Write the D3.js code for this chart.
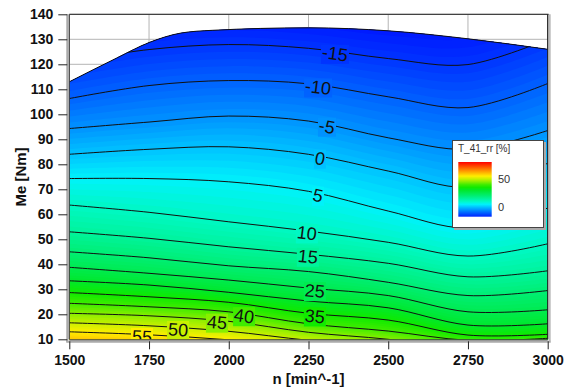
<!DOCTYPE html>
<html>
<head>
<meta charset="utf-8">
<script src="https://cdn.jsdelivr.net/npm/d3@7"></script>
<style>
  body { margin: 0; background: #fff; }
  text { font-family: "Liberation Sans", Arial, sans-serif; }
</style>
</head>
<body>
<script>
// speed samples n [min^-1]
var nValues = [1500, 1750, 2000, 2250, 2500, 2750, 3000];

// contour levels of T_41_rr [%]
var levels = [-15, -10, -5, 0, 5, 10, 15, 20, 25, 30, 35, 40, 45, 50, 55];

// Me [Nm] of every contour line at nValues (one row per level)
var contourMe = [
  [121.0, 125.9, 127.9, 126.4, 122.3, 119.9, 130.0],  // -15
  [106.3, 111.5, 113.5, 112.2, 107.0, 102.7, 112.3],  // -10
  [ 94.3,  96.9,  99.3,  97.3,  90.6,  86.0,  93.5],  // -5
  [ 84.0,  86.0,  87.0,  84.0,  77.3,  70.8,  80.4],  // 0
  [ 74.3,  74.3,  73.0,  69.2,  61.3,  54.5,  62.5],  // 5
  [ 63.7,  60.8,  57.0,  53.3,  48.8,  43.3,  48.2],  // 10
  [ 53.0,  50.4,  47.0,  44.0,  40.4,  35.0,  37.4],  // 15
  [ 45.0,  42.6,  39.4,  37.1,  32.8,  27.5,  29.5],  // 20
  [ 38.8,  36.4,  33.7,  30.5,  27.5,  21.0,  21.8],  // 25
  [ 33.4,  31.7,  28.8,  25.3,  22.6,  15.7,  16.2],  // 30
  [ 28.7,  27.0,  24.8,  20.4,  17.7,  11.7,  12.0],  // 35
  [ 24.4,  23.0,  21.0,  16.2,  13.3,   9.6,  10.4],  // 40
  [ 20.4,  19.4,  17.2,  12.8,  10.0,   6.0,   7.0],  // 45
  [ 16.6,  15.4,  13.2,   9.6,   7.0,   4.0,   4.0],  // 50
  [ 13.0,  11.8,   9.8,   7.0,   4.0,   2.0,   1.0]   // 55
];

// upper limit of the measured map
var envN  = [1500, 1650, 1750, 1850, 1950, 2250, 2500, 2750, 3000];
var envMe = [113.0, 122.6, 128.7, 132.5, 133.6, 134.6, 133.4, 130.2, 126.0];

// contour labels
var labelLevels = [-15, -10, -5, 0, 5, 10, 15, 25, 35, 40, 45, 50, 55];
var labelN      = [2333, 2280, 2308, 2286, 2280, 2245, 2248, 2270, 2270, 2048, 1963, 1841, 1728];

// axis ticks
var xTicks = [1500, 1750, 2000, 2250, 2500, 2750, 3000];
var yTicks = [10, 20, 30, 40, 50, 60, 70, 80, 90, 100, 110, 120, 130, 140];

// colour map
var colorStops  = [-20, -15, -10, -5, 0, 5, 10, 20, 30, 35, 40, 45, 50, 55, 60, 70, 80];
var colorValues = ["#0010ff", "#0034ff", "#0062ff", "#0092ff", "#00c2ff", "#00f2fa", "#00f8c4",
                   "#00ee74", "#00e82c", "#10ea00", "#40ec00", "#88ee00", "#c8f000", "#ffee00",
                   "#ffbe00", "#ff6000", "#ff0000"];
var legendTicks = [0, 50];

var W = 571, H = 390;
var pL = 69.3, pR = 547.7, pT = 14.3, pB = 339.3;

var svg = d3.select("body").append("svg")
  .attr("width", W)
  .attr("height", H);

var x = d3.scaleLinear().domain([1500, 3000]).range([pL, pR]);
var y = d3.scaleLinear().domain([10, 140]).range([pB, pT]);
var color = d3.scaleLinear().domain(colorStops).range(colorValues).clamp(true);

// grid
svg.append("g").selectAll("line")
  .data(xTicks)
  .enter().append("line")
  .attr("x1", function (d) { return x(d); })
  .attr("x2", function (d) { return x(d); })
  .attr("y1", pT).attr("y2", pB)
  .attr("stroke", "#b4b4b4");
svg.append("g").selectAll("line")
  .data(yTicks)
  .enter().append("line")
  .attr("x1", pL).attr("x2", pR)
  .attr("y1", function (d) { return y(d); })
  .attr("y2", function (d) { return y(d); })
  .attr("stroke", "#b4b4b4");

// clip to the map area
var envArea = d3.area()
  .x(function (d, i) { return x(envN[i]); })
  .y0(y(10))
  .y1(function (d) { return y(d); })
  .curve(d3.curveMonotoneX);

svg.append("clipPath").attr("id", "map")
  .append("path")
  .attr("d", envArea(envMe));

// Me of an arbitrary value at column i, from the neighbouring contour lines
function meOf(v, i) {
  var k = Math.floor((v - levels[0]) / 5);
  k = Math.max(0, Math.min(levels.length - 2, k));
  var t = (v - levels[k]) / (levels[k + 1] - levels[k]);
  return contourMe[k][i] + t * (contourMe[k + 1][i] - contourMe[k][i]);
}

var fill = svg.append("g").attr("clip-path", "url(#map)");

fill.append("rect")
  .attr("x", pL).attr("y", pT)
  .attr("width", pR - pL).attr("height", pB - pT)
  .attr("fill", color(-20.5));

var bandArea = d3.area()
  .x(function (d, i) { return x(nValues[i]); })
  .y0(y(-20))
  .y1(function (d) { return y(d); })
  .curve(d3.curveCardinal);

var bands = d3.range(-20, 62, 1);
fill.selectAll("path.band")
  .data(bands)
  .enter().append("path")
  .attr("class", "band")
  .attr("d", function (v) {
    return bandArea(nValues.map(function (n, i) { return meOf(v, i); }));
  })
  .attr("fill", function (v) { return color(v + 0.5); });

// contour lines
var line = d3.line()
  .x(function (d, i) { return x(nValues[i]); })
  .y(function (d) { return y(d); })
  .curve(d3.curveCardinal);

var lines = fill.selectAll("path.cl")
  .data(contourMe)
  .enter().append("path")
  .attr("class", "cl")
  .attr("d", line)
  .attr("fill", "none")
  .attr("stroke", "#111")
  .attr("stroke-width", 1);

// outline of the map
svg.append("path")
  .attr("d", d3.line()
    .x(function (d, i) { return x(envN[i]); })
    .y(function (d) { return y(d); })
    .curve(d3.curveMonotoneX)(envMe))
  .attr("fill", "none")
  .attr("stroke", "#111");

// find a point on a path at a given x
function pointAt(path, xt) {
  var lo = 0, hi = path.getTotalLength(), p;
  for (var k = 0; k < 30; k++) {
    var mid = (lo + hi) / 2;
    p = path.getPointAtLength(mid);
    if (p.x < xt) lo = mid; else hi = mid;
  }
  return p;
}

var lineNodes = lines.nodes();
var labelG = fill.append("g");
labelLevels.forEach(function (lv, j) {
  var node = lineNodes[levels.indexOf(lv)];
  var xt = x(labelN[j]);
  var p = pointAt(node, xt);
  var p1 = pointAt(node, xt - 6), p2 = pointAt(node, xt + 6);
  var ang = Math.atan2(p2.y - p1.y, p2.x - p1.x) * 180 / Math.PI;
  var g = labelG.append("g")
    .attr("transform", "translate(" + p.x + "," + (p.y + 2) + ")");
  var rect = g.append("rect").attr("fill", color(lv));
  var t = g.append("text")
    .attr("text-anchor", "middle")
    .attr("dy", "0.36em")
    .attr("transform", "rotate(" + ang + ")")
    .attr("font-size", "18px")
    .attr("fill", "#111")
    .text(lv);
  var bb = t.node().getBBox();
  rect.attr("x", bb.x - 1).attr("y", bb.y + 1)
    .attr("width", bb.width + 2).attr("height", bb.height - 1);
});

// frame
svg.append("line").attr("x1", pL).attr("x2", pR + 1).attr("y1", pT).attr("y2", pT)
  .attr("stroke", "#222");
svg.append("line").attr("x1", pR + 2).attr("x2", pR + 2).attr("y1", pT).attr("y2", pB + 2)
  .attr("stroke", "#bbb").attr("stroke-width", 2);
svg.append("line").attr("x1", pR).attr("x2", pR).attr("y1", pT).attr("y2", pB)
  .attr("stroke", "#222").attr("stroke-width", 1.2);
svg.append("line").attr("x1", pL - 2).attr("x2", pL - 2).attr("y1", pT).attr("y2", pB + 3)
  .attr("stroke", "#aaa").attr("stroke-width", 2);
svg.append("line").attr("x1", pL).attr("x2", pL).attr("y1", pT).attr("y2", pB)
  .attr("stroke", "#444").attr("stroke-width", 1.2);
svg.append("line").attr("x1", pL - 3).attr("x2", pR + 3).attr("y1", pB + 2.5).attr("y2", pB + 2.5)
  .attr("stroke", "#aaa").attr("stroke-width", 2);
svg.append("line").attr("x1", pL).attr("x2", pR).attr("y1", pB + 0.5).attr("y2", pB + 0.5)
  .attr("stroke", "#444").attr("stroke-width", 1.2);

// axes
var yAxis = svg.append("g")
  .attr("transform", "translate(" + (pL - 2) + ",0)")
  .call(d3.axisLeft(y).tickValues(yTicks).tickSize(9).tickPadding(5).tickFormat(d3.format("d")));
var xAxis = svg.append("g")
  .attr("transform", "translate(0," + (pB + 2) + ")")
  .call(d3.axisBottom(x).tickValues(xTicks).tickSize(8).tickPadding(6).tickFormat(d3.format("d")));

[xAxis, yAxis].forEach(function (a) {
  a.select(".domain").remove();
  a.selectAll(".tick line").attr("stroke", "#222");
  a.selectAll(".tick text")
    .attr("font-family", "Liberation Sans, Arial, sans-serif")
    .attr("font-size", "14px")
    .attr("font-weight", "bold")
    .attr("fill", "#111");
});

svg.append("text")
  .attr("x", (pL + pR) / 2)
  .attr("y", 384)
  .attr("text-anchor", "middle")
  .attr("font-size", "15px")
  .attr("font-weight", "bold")
  .attr("fill", "#111")
  .text("n [min^-1]");

svg.append("text")
  .attr("transform", "translate(26,177) rotate(-90)")
  .attr("text-anchor", "middle")
  .attr("font-size", "15px")
  .attr("font-weight", "bold")
  .attr("fill", "#111")
  .text("Me [Nm]");

// legend
var lg = svg.append("g");
lg.append("rect").attr("x", 454).attr("y", 142).attr("width", 92).attr("height", 88)
  .attr("fill", "#aaa");
lg.append("rect").attr("x", 452.5).attr("y", 140.5).attr("width", 91).attr("height", 87)
  .attr("fill", "#fff").attr("stroke", "#444");
lg.append("text").attr("x", 458).attr("y", 152)
  .attr("font-size", "10px").attr("fill", "#333")
  .text("T_41_rr [%]");

var lScale = d3.scaleLinear().domain([-17, 80]).range([216.7, 162]);
var grad = svg.append("defs").append("linearGradient")
  .attr("id", "lgrad")
  .attr("x1", 0).attr("y1", 1).attr("x2", 0).attr("y2", 0);
grad.selectAll("stop")
  .data(d3.range(-17, 81, 1))
  .enter().append("stop")
  .attr("offset", function (d) { return (d + 17) / 97; })
  .attr("stop-color", function (d) { return color(d); });
lg.append("rect")
  .attr("x", 458.3).attr("y", lScale(80))
  .attr("width", 33.4).attr("height", lScale(-17) - lScale(80))
  .attr("fill", "url(#lgrad)");
lg.selectAll("text.lt")
  .data(legendTicks)
  .enter().append("text")
  .attr("class", "lt")
  .attr("x", 498)
  .attr("y", function (d) { return lScale(d); })
  .attr("dy", "0.36em")
  .attr("font-size", "11px")
  .attr("fill", "#333")
  .text(function (d) { return d; });
</script>
</body>
</html>
